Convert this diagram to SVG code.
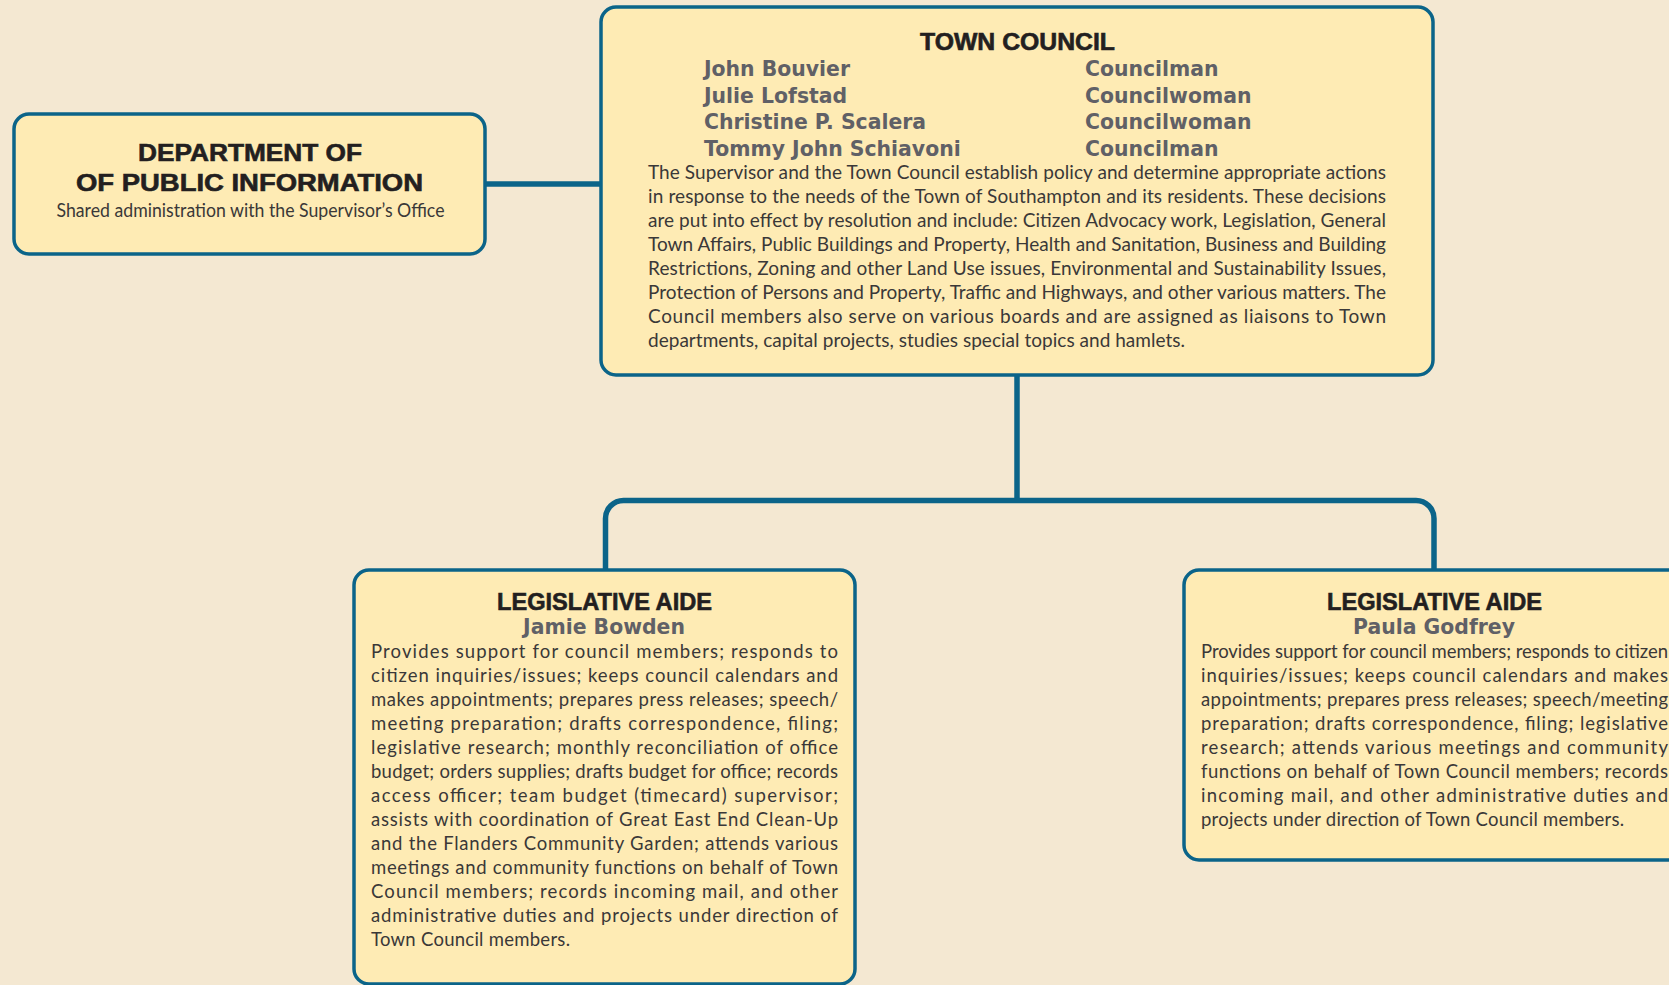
<svg xmlns="http://www.w3.org/2000/svg" width="1669" height="985" viewBox="0 0 1669 985">
<style>
.box{fill:#feebb4;stroke:#0b6489;stroke-width:3.5}
.conn{fill:none;stroke:#0b6489;stroke-width:5.5}
.hd{font-family:"Liberation Sans",Arial,sans-serif;font-weight:bold;fill:#231f20;stroke:#231f20;stroke-width:0.6;font-size:23.5px}
.nm{font-family:"DejaVu Sans",Verdana,sans-serif;font-weight:bold;fill:#606066;font-size:20.4px}
.bd{font-family:Lato,"Liberation Sans",sans-serif;fill:#3a3838;font-size:18.5px}
.bc{font-family:Lato,"Liberation Sans",sans-serif;fill:#3a3838;font-size:19px}
</style>
<rect width="1669" height="985" fill="#f4e8d2"/>
<g id="connectors">
<path class="conn" d="M485,184 H601" stroke-width="5"/>
<path class="conn" d="M1017,375 V500.5"/>
<path class="conn" d="M605.5,570 V518.5 A18,18 0 0 1 623.5,500.5 H1416 A18,18 0 0 1 1434,518.5 V570"/>
</g>
<g id="dept-public-information">
<rect class="box" x="14" y="114" width="471" height="140" rx="15"/>
<text class="hd" x="138" y="161" font-size="24.5" textLength="224" lengthAdjust="spacingAndGlyphs">DEPARTMENT OF</text>
<text class="hd" x="76" y="190.5" font-size="24.5" textLength="347" lengthAdjust="spacingAndGlyphs">OF PUBLIC INFORMATION</text>
<text class="bd" x="56.5" y="216.5" font-size="17.5" textLength="388" lengthAdjust="spacingAndGlyphs">Shared administration with the Supervisor’s Office</text>
</g>
<g id="town-council">
<rect class="box" x="601" y="7" width="832" height="368" rx="15"/>
<text class="hd" x="920" y="50" textLength="195" lengthAdjust="spacingAndGlyphs">TOWN COUNCIL</text>
<text class="nm" x="704" y="76">John Bouvier</text>
<text class="nm" x="704" y="102.5">Julie Lofstad</text>
<text class="nm" x="704" y="129">Christine P. Scalera</text>
<text class="nm" x="704" y="155.5">Tommy John Schiavoni</text>
<text class="nm" x="1085" y="76">Councilman</text>
<text class="nm" x="1085" y="102.5">Councilwoman</text>
<text class="nm" x="1085" y="129">Councilwoman</text>
<text class="nm" x="1085" y="155.5">Councilman</text>
<text class="bc" x="648" y="179" textLength="738" lengthAdjust="spacing">The Supervisor and the Town Council establish policy and determine appropriate actions</text>
<text class="bc" x="648" y="203" textLength="738" lengthAdjust="spacing">in response to the needs of the Town of Southampton and its residents. These decisions</text>
<text class="bc" x="648" y="227" textLength="738" lengthAdjust="spacing">are put into effect by resolution and include: Citizen Advocacy work, Legislation, General</text>
<text class="bc" x="648" y="251" textLength="738" lengthAdjust="spacing">Town Affairs, Public Buildings and Property, Health and Sanitation, Business and Building</text>
<text class="bc" x="648" y="275" textLength="738" lengthAdjust="spacing">Restrictions, Zoning and other Land Use issues, Environmental and Sustainability Issues,</text>
<text class="bc" x="648" y="299" textLength="738" lengthAdjust="spacing">Protection of Persons and Property, Traffic and Highways, and other various matters. The</text>
<text class="bc" x="648" y="323" textLength="738" lengthAdjust="spacing">Council members also serve on various boards and are assigned as liaisons to Town</text>
<text class="bc" x="648" y="347" textLength="537" lengthAdjust="spacing">departments, capital projects, studies special topics and hamlets.</text>
</g>
<g id="legislative-aide-bowden">
<rect class="box" x="354" y="570" width="501" height="414" rx="15"/>
<text class="hd" x="497" y="610" textLength="215" lengthAdjust="spacingAndGlyphs">LEGISLATIVE AIDE</text>
<text class="nm" x="604" y="634" text-anchor="middle">Jamie Bowden</text>
<text class="bd" x="371" y="658" textLength="467" lengthAdjust="spacing">Provides support for council members; responds to</text>
<text class="bd" x="371" y="682" textLength="467" lengthAdjust="spacing">citizen inquiries/issues; keeps council calendars and</text>
<text class="bd" x="371" y="706" textLength="467" lengthAdjust="spacing">makes appointments; prepares press releases; speech/</text>
<text class="bd" x="371" y="730" textLength="467" lengthAdjust="spacing">meeting preparation; drafts correspondence, filing;</text>
<text class="bd" x="371" y="754" textLength="467" lengthAdjust="spacing">legislative research; monthly reconciliation of office</text>
<text class="bd" x="371" y="778" textLength="467" lengthAdjust="spacing">budget; orders supplies; drafts budget for office; records</text>
<text class="bd" x="371" y="802" textLength="467" lengthAdjust="spacing">access officer; team budget (timecard) supervisor;</text>
<text class="bd" x="371" y="826" textLength="467" lengthAdjust="spacing">assists with coordination of Great East End Clean-Up</text>
<text class="bd" x="371" y="850" textLength="467" lengthAdjust="spacing">and the Flanders Community Garden; attends various</text>
<text class="bd" x="371" y="874" textLength="467" lengthAdjust="spacing">meetings and community functions on behalf of Town</text>
<text class="bd" x="371" y="898" textLength="467" lengthAdjust="spacing">Council members; records incoming mail, and other</text>
<text class="bd" x="371" y="922" textLength="467" lengthAdjust="spacing">administrative duties and projects under direction of</text>
<text class="bd" x="371" y="946" textLength="199" lengthAdjust="spacing">Town Council members.</text>
</g>
<g id="legislative-aide-godfrey">
<rect class="box" x="1184" y="570" width="500" height="290" rx="15"/>
<text class="hd" x="1327" y="610" textLength="215" lengthAdjust="spacingAndGlyphs">LEGISLATIVE AIDE</text>
<text class="nm" x="1434" y="634" text-anchor="middle">Paula Godfrey</text>
<text class="bd" x="1201" y="658" textLength="467" lengthAdjust="spacing">Provides support for council members; responds to citizen</text>
<text class="bd" x="1201" y="682" textLength="467" lengthAdjust="spacing">inquiries/issues; keeps council calendars and makes</text>
<text class="bd" x="1201" y="706" textLength="467" lengthAdjust="spacing">appointments; prepares press releases; speech/meeting</text>
<text class="bd" x="1201" y="730" textLength="467" lengthAdjust="spacing">preparation; drafts correspondence, filing; legislative</text>
<text class="bd" x="1201" y="754" textLength="467" lengthAdjust="spacing">research; attends various meetings and community</text>
<text class="bd" x="1201" y="778" textLength="467" lengthAdjust="spacing">functions on behalf of Town Council members; records</text>
<text class="bd" x="1201" y="802" textLength="467" lengthAdjust="spacing">incoming mail, and other administrative duties and</text>
<text class="bd" x="1201" y="826" textLength="423" lengthAdjust="spacing">projects under direction of Town Council members.</text>
</g>
</svg>
